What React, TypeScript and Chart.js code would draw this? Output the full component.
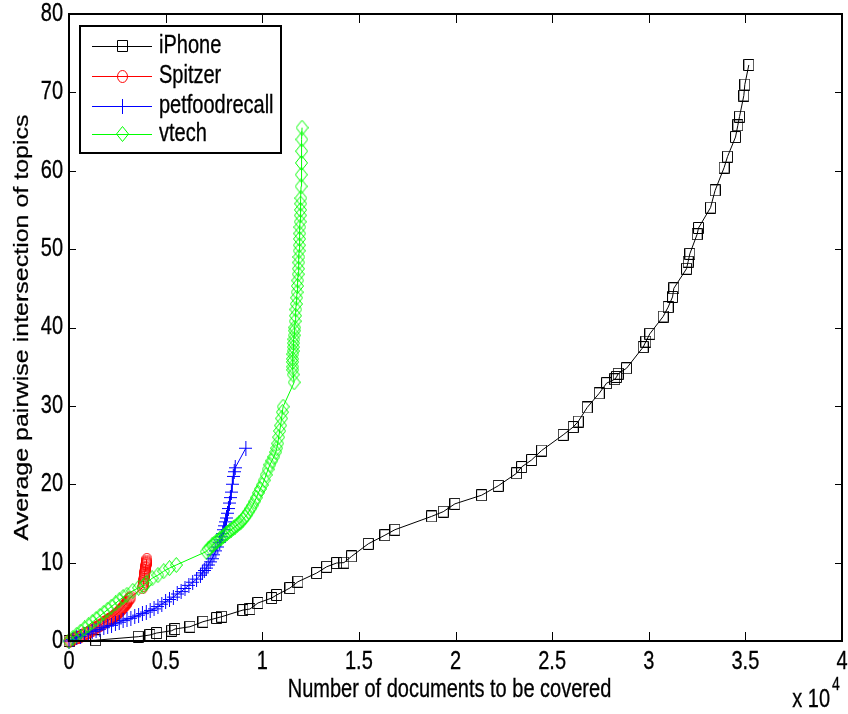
import { useEffect, useRef } from "react";
import { Chart, registerables } from "chart.js";
Chart.register(...registerables);

// [documents covered, average pairwise intersection]
const iphonePoints: [number, number][] = [
  [0, 0], [1380, 0.1], [3585, 0.55], [4190, 0.77], [4537, 1.02], [5313, 1.31], [5484, 1.53],
  [6260, 1.82], [6932, 2.46], [7641, 2.93], [7900, 3.1], [9002, 3.95], [9364, 4.08], [9778, 4.85],
  [10487, 5.48], [10745, 5.87], [11433, 6.76], [11847, 7.56], [12814, 8.67], [13332, 9.47],
  [13849, 9.95], [14227, 10.0], [14624, 10.8], [15487, 12.4], [16348, 13.5], [16865, 14.2],
  [18763, 15.9], [19366, 16.5], [19969, 17.5], [21350, 18.6], [22210, 19.8], [23160, 21.4],
  [23420, 22.2], [23937, 23.1], [24454, 24.3], [25572, 26.3], [26090, 27.3], [26350, 28.0],
  [26815, 29.8], [27436, 31.6], [27820, 32.9], [28246, 33.4], [28334, 33.7], [28417, 34.1],
  [28851, 34.8], [29710, 37.5], [29850, 38.2], [30057, 39.2], [30745, 41.4], [31004, 42.6],
  [31231, 43.9], [31299, 45.0], [31955, 47.5], [32038, 48.4], [32126, 49.4], [32504, 51.9],
  [32576, 52.7], [33197, 55.3], [33435, 57.5], [33900, 60.4], [34076, 61.8], [34490, 64.3],
  [34610, 65.8], [34697, 66.9], [34920, 69.6], [34972, 71.0], [35179, 73.5],
];

const spitzerPoints: [number, number][] = [
  [0, 0], [100, 0.1], [200, 0.2], [300, 0.3], [400, 0.4], [500, 0.5], [600, 0.6], [700, 0.75],
  [800, 0.9], [900, 1.0], [1000, 1.1], [1100, 1.25], [1200, 1.4], [1300, 1.55], [1400, 1.7],
  [1500, 1.85], [1600, 2.0], [1700, 2.15], [1800, 2.3], [1900, 2.45], [2000, 2.6], [2050, 2.7],
  [2100, 2.75], [2150, 2.85], [2200, 2.9], [2250, 3.0], [2300, 3.1], [2350, 3.2], [2400, 3.3],
  [2450, 3.4], [2500, 3.5], [2550, 3.6], [2600, 3.75], [2650, 3.9], [2700, 4.0], [2750, 4.15],
  [2800, 4.3], [2850, 4.45], [2900, 4.6], [2950, 4.75], [3000, 4.9], [3050, 5.1], [3100, 5.3],
  [3150, 5.45], [3200, 5.6], [3800, 6.8], [3830, 7.1], [3850, 7.3], [3870, 7.6], [3880, 7.8],
  [3890, 8.1], [3900, 8.3], [3915, 8.6], [3930, 8.8], [3940, 9.0], [3950, 9.2], [3965, 9.4],
  [3980, 9.6], [3990, 9.8], [4000, 9.9], [4010, 10.05], [4020, 10.2], [4030, 10.4],
];

const petfoodPoints: [number, number][] = [
  [0, 0], [200, 0.2], [400, 0.4], [600, 0.6], [800, 0.8], [1000, 1.0], [1200, 1.2], [1400, 1.4],
  [1600, 1.5], [1800, 1.7], [2000, 1.9], [2200, 2.0], [2400, 2.2], [2600, 2.4], [2800, 2.6],
  [3000, 2.8], [3200, 2.9], [3400, 3.1], [3600, 3.3], [3800, 3.5], [4000, 3.7], [4200, 3.9],
  [4400, 4.1], [4600, 4.4], [4800, 4.7], [5000, 5.0], [5200, 5.3], [5400, 5.6], [5600, 6.0],
  [5800, 6.3], [6000, 6.7], [6200, 7.1], [6400, 7.5], [6600, 7.9], [6800, 8.4], [6900, 8.7],
  [7000, 9.0], [7100, 9.3], [7200, 9.7], [7300, 10.1], [7400, 10.5], [7500, 11.0], [7600, 11.5],
  [7700, 12.0], [7800, 12.6], [7850, 12.9], [7900, 13.3], [7950, 13.7], [8000, 14.2],
  [8050, 14.7], [8100, 15.2], [8150, 15.7], [8200, 16.3], [8250, 16.9], [8300, 17.6],
  [8350, 18.3], [8400, 19.0], [8450, 20.0], [8500, 21.0], [8550, 21.6], [8600, 22.1],
  [9150, 24.6],
];

const vtechPoints: [number, number][] = [
  [0, 0], [200, 0.4], [400, 0.8], [600, 1.2], [800, 1.6], [1000, 2.0], [1200, 2.4], [1400, 2.8],
  [1600, 3.2], [1800, 3.6], [2000, 4.0], [2200, 4.4], [2400, 4.8], [2600, 5.2], [2800, 5.6],
  [3000, 5.9], [3300, 6.4], [3600, 6.8], [3850, 7.0], [4000, 7.4], [4300, 8.0], [4600, 8.4],
  [4900, 8.9], [5200, 9.3], [5550, 9.7], [7100, 11.4], [7200, 11.7], [7300, 11.9], [7400, 12.2],
  [7500, 12.4], [7600, 12.6], [7700, 12.8], [7800, 13.0], [7900, 13.2], [8000, 13.4],
  [8100, 13.6], [8200, 13.8], [8300, 14.0], [8400, 14.2], [8500, 14.4], [8600, 14.6],
  [8700, 14.8], [8800, 15.0], [8900, 15.2], [9000, 15.5], [9100, 15.8], [9200, 16.1],
  [9300, 16.5], [9400, 16.9], [9500, 17.3], [9600, 17.8], [9700, 18.3], [9800, 18.9],
  [9900, 19.4], [10000, 19.9], [10100, 20.5], [10200, 21.2], [10300, 21.9], [10400, 22.5],
  [10500, 23.0], [10600, 23.5], [10700, 24.1], [10750, 24.6], [10800, 25.2], [10850, 26.0],
  [10900, 26.8], [10950, 27.5], [11000, 28.4], [11040, 29.2], [11080, 29.9], [11650, 33.0],
  [11600, 34.0], [11580, 34.6], [11580, 35.0], [11570, 35.6], [11570, 36.0], [11590, 36.6],
  [11600, 37.0], [11610, 37.5], [11620, 38.0], [11640, 38.5], [11650, 39.0], [11670, 39.6],
  [11680, 40.0], [11700, 40.8], [11720, 41.5], [11740, 42.3], [11760, 43.0], [11780, 43.8],
  [11800, 44.5], [11820, 45.3], [11840, 46.0], [11860, 46.8], [11870, 47.5], [11890, 48.3],
  [11900, 49.0], [11910, 49.8], [11920, 50.5], [11930, 51.3], [11940, 52.0], [11950, 52.8],
  [11960, 53.5], [11970, 54.3], [11980, 55.0], [11990, 55.8], [12000, 56.5], [12010, 58.0],
  [12020, 59.5], [12030, 61.0], [12040, 62.5], [12050, 64.0], [12060, 65.5],
];

const seriesNames = ["iPhone", "Spitzer", "petfoodrecall", "vtech"];
const seriesColors = ["#000000", "#ff0000", "#0000ff", "#00ff00"];
const seriesMarkers = ["square", "circle", "cross", "diamond"];
const xTickLabels = ["0", "0.5", "1", "1.5", "2", "2.5", "3", "3.5", "4"];
const yTickLabels = ["0", "10", "20", "30", "40", "50", "60", "70", "80"];
const xTitle = "Number of documents to be covered";
const yTitle = "Average pairwise intersection of topics";

const FONT = '"Liberation Sans", Arial, Helvetica, sans-serif';
const STRETCH = 1.25;

function makeMarker(kind: string, color: string): HTMLCanvasElement {
  const c = document.createElement("canvas");
  let w = 11, h = 12;
  if (kind === "circle") { w = 11; h = 13; }
  if (kind === "cross") { w = 13; h = 15; }
  if (kind === "diamond") { w = 13; h = 16; }
  c.width = w; c.height = h;
  const g = c.getContext("2d")!;
  g.strokeStyle = color;
  g.lineWidth = 1;
  g.beginPath();
  if (kind === "square") {
    g.rect(0.5, 0.5, w - 1, h - 1);
  } else if (kind === "circle") {
    g.ellipse(w / 2, h / 2, w / 2 - 0.5, h / 2 - 0.5, 0, 0, Math.PI * 2);
  } else if (kind === "cross") {
    g.moveTo(w / 2, 0); g.lineTo(w / 2, h);
    g.moveTo(0, h / 2); g.lineTo(w, h / 2);
  } else {
    g.moveTo(w / 2, 0.5); g.lineTo(w - 0.5, h / 2);
    g.lineTo(w / 2, h - 0.5); g.lineTo(0.5, h / 2); g.closePath();
  }
  g.stroke();
  return c;
}

function text(ctx: CanvasRenderingContext2D, s: string, x: number, y: number,
  align: CanvasTextAlign, size: number, rotate = false) {
  ctx.save();
  ctx.translate(x, y);
  ctx.scale(1, STRETCH);
  if (rotate) ctx.rotate(-Math.PI / 2);
  ctx.font = `${size}px ${FONT}`;
  ctx.fillStyle = "#000";
  ctx.strokeStyle = "#000";
  ctx.lineWidth = 0.25;
  ctx.textAlign = align;
  ctx.textBaseline = "middle";
  ctx.fillText(s, 0, 0);
  ctx.strokeText(s, 0, 0);
  ctx.restore();
}

export default function App() {
  const ref = useRef<HTMLCanvasElement | null>(null);
  useEffect(() => {
    if (!ref.current) return;
    const markers = seriesMarkers.map((m, i) => makeMarker(m, seriesColors[i]));
    const allPoints = [iphonePoints, spitzerPoints, petfoodPoints, vtechPoints];

    const frame = {
      id: "frame",
      afterDraw(chart: any) {
        const { ctx, chartArea, scales } = chart;
        const { left, right, top, bottom } = chartArea;
        const xs = scales.x, ys = scales.y;
        ctx.save();
        ctx.strokeStyle = "#000";
        ctx.lineWidth = 1;
        ctx.beginPath();
        xs.ticks.forEach((t: any) => {
          const px = Math.round(xs.getPixelForValue(t.value)) + 0.5;
          ctx.moveTo(px, bottom); ctx.lineTo(px, bottom - 9);
          ctx.moveTo(px, top); ctx.lineTo(px, top + 9);
        });
        ys.ticks.forEach((t: any) => {
          const py = Math.round(ys.getPixelForValue(t.value)) + 0.5;
          ctx.moveTo(left, py); ctx.lineTo(left + 7, py);
          ctx.moveTo(right, py); ctx.lineTo(right - 7, py);
        });
        ctx.stroke();
        ctx.lineWidth = 2;
        ctx.strokeRect(left, top, right - left, bottom - top);
        ctx.restore();

        xs.ticks.forEach((t: any, i: number) => {
          text(ctx, xTickLabels[i] ?? "", xs.getPixelForValue(t.value), bottom + 21, "center", 20);
        });
        ys.ticks.forEach((t: any, i: number) => {
          text(ctx, yTickLabels[i] ?? "", left - 6, ys.getPixelForValue(t.value), "right", 20);
        });
        text(ctx, xTitle, (left + right) / 2 - 6, bottom + 49, "center", 20);
        text(ctx, yTitle, 22, (top + bottom) / 2, "center", 20, true);
        text(ctx, "x 10", right - 12, bottom + 59, "right", 20);
        text(ctx, "4", right - 10, bottom + 44, "left", 14);

        // legend
        const lx = 80, ly = 26, lw = 201, lh = 127;
        ctx.save();
        ctx.fillStyle = "#fff";
        ctx.fillRect(lx, ly, lw, lh);
        ctx.lineWidth = 2;
        ctx.strokeStyle = "#000";
        ctx.strokeRect(lx, ly, lw, lh);
        const rows = [46, 76, 106, 134];
        seriesNames.forEach((name, i) => {
          const ry = rows[i];
          ctx.strokeStyle = seriesColors[i];
          ctx.lineWidth = 1;
          ctx.beginPath();
          ctx.moveTo(92, ry + 0.5); ctx.lineTo(152, ry + 0.5);
          ctx.stroke();
          const m = markers[i];
          ctx.drawImage(m, 122 - Math.floor(m.width / 2), ry - Math.floor(m.height / 2));
          text(ctx, name, 159, ry, "left", 20);
        });
        ctx.restore();
      },
    };

    const chart = new Chart(ref.current, {
      type: "scatter",
      data: {
        datasets: allPoints.map((pts, i) => ({
          label: seriesNames[i],
          data: pts.map(([x, y]) => ({ x, y })),
          showLine: true,
          borderColor: seriesColors[i],
          backgroundColor: seriesColors[i],
          borderWidth: 1,
          pointStyle: markers[i],
          pointRadius: 5,
          clip: false as any,
          order: 3 - i,
        })),
      },
      options: {
        animation: false,
        responsive: true,
        maintainAspectRatio: false,
        layout: { padding: { left: 0, top: 14, right: 6, bottom: 0 } },
        plugins: { legend: { display: false }, tooltip: { enabled: false } },
        scales: {
          x: {
            type: "linear", min: 0, max: 40000,
            ticks: { display: false, stepSize: 5000 },
            grid: { display: false }, border: { display: false },
            afterFit: (s: any) => { s.height = 73; },
          },
          y: {
            type: "linear", min: 0, max: 80,
            ticks: { display: false, stepSize: 10 },
            grid: { display: false }, border: { display: false },
            afterFit: (s: any) => { s.width = 69; },
          },
        },
      },
      plugins: [frame],
    });
    return () => chart.destroy();
  }, []);

  return (
    <div style={{ position: "fixed", left: 0, top: 0, width: 848, height: 714, background: "#fff" }}>
      <canvas ref={ref} />
    </div>
  );
}
